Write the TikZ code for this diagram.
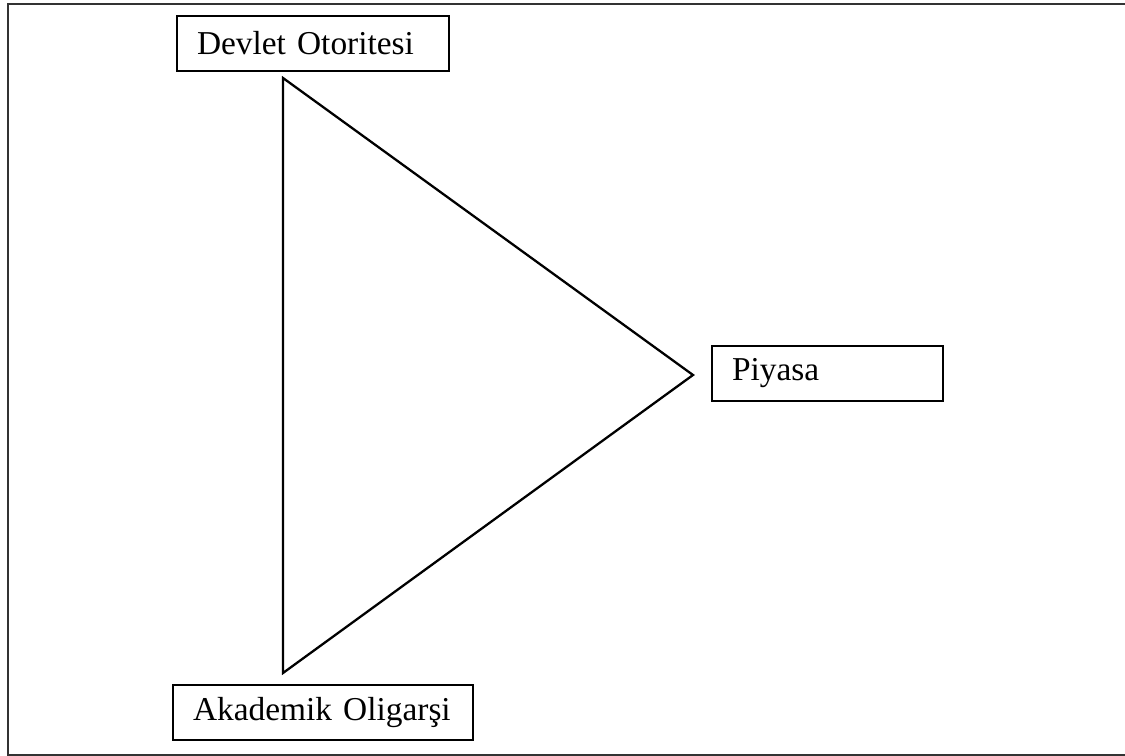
\documentclass[tikz,border=0pt]{standalone}
\usepackage{fontspec}
\setmainfont{Liberation Serif}
\usepackage{tikz}

\tikzset{
  kutu/.style={draw, line width=0.8pt, font=\fontsize{19}{22}\selectfont,
    align=left, inner xsep=0.4cm, inner ysep=0pt, minimum height=1.1cm}
}

\begin{document}
\begin{tikzpicture}[x=0.02cm, y=-0.02cm]
    \useasboundingbox (0,0) rectangle (1125,756);
    % Cerceve
    \draw[line width=1.5pt, black!80] (1125,4) -- (8,4) -- (8,755) -- (1125,755);

    % Ucgenin koseleri
    \coordinate (ust) at (283,78);
    \coordinate (sag) at (693,375);
    \coordinate (alt) at (283,673);
    \draw[line width=1.3pt] (ust) -- (sag) -- (alt) -- cycle;

    % Etiketler
    \node[kutu, minimum width=5.44cm, text width=4.64cm] (devlet) at (313,43.5) {Devlet Otoritesi};
    \node[kutu, minimum width=4.62cm, text width=3.82cm] (piyasa) at (827.5,373.5) {Piyasa};
    \node[kutu, minimum width=6cm, text width=5.2cm] (akademik) at (323,712.5) {Akademik Oligarşi};
\end{tikzpicture}
\end{document}
